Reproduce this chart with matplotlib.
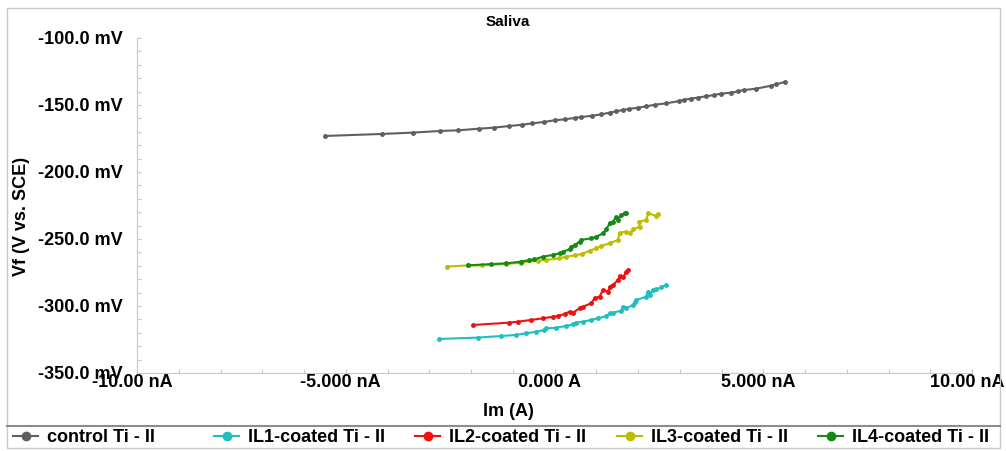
import numpy as np
import matplotlib.pyplot as plt
import matplotlib.transforms as mtransforms
from matplotlib.patches import Rectangle
from matplotlib.lines import Line2D

# Data (current in nA, potential in mV)
control_x = [-5.49, -4.13, -3.39, -2.75, -2.32, -1.81, -1.45, -1.09, -0.77, -0.53,
             -0.26, 0.00, 0.24, 0.48, 0.64, 0.90, 1.12, 1.32, 1.48, 1.64,
             1.78, 2.00, 2.20, 2.40, 2.67, 2.99, 3.11, 3.27, 3.43, 3.63,
             3.83, 3.99, 4.23, 4.39, 4.55, 4.83, 5.19, 5.31, 5.51]
control_y = [-173.1, -171.6, -170.6, -169.4, -168.9, -167.7, -166.9, -165.7, -164.7, -163.7,
             -162.7, -161.4, -160.7, -159.7, -159.0, -158.0, -157.0, -155.7, -154.7, -153.7,
             -153.0, -152.0, -151.0, -149.8, -148.8, -147.0, -146.0, -145.3, -144.5, -143.5,
             -142.5, -141.5, -140.8, -139.8, -138.8, -137.8, -135.6, -134.6, -132.8]

il1_x = [-2.77, -1.84, -1.28, -0.92, -0.69, -0.44, -0.24, -0.20, 0.04, 0.28,
         0.44, 0.52, 0.68, 0.88, 1.04, 1.24, 1.32, 1.40, 1.60, 1.64,
         1.72, 1.88, 1.92, 1.96, 2.20, 2.24, 2.28, 2.36, 2.44, 2.56, 2.67]
il1_y = [-324.6, -323.6, -322.4, -321.6, -320.4, -319.2, -317.9, -316.7, -316.2, -314.9,
         -313.7, -312.4, -311.7, -310.4, -309.2, -307.5, -305.5, -305.0, -303.5, -300.5,
         -301.7, -299.3, -296.8, -295.5, -293.0, -289.3, -291.8, -288.1, -287.6, -286.1, -284.3]

il2_x = [-1.96, -1.08, -0.88, -0.56, -0.28, -0.04, 0.08, 0.24, 0.36, 0.44,
         0.60, 0.68, 0.88, 0.96, 1.08, 1.16, 1.28, 1.32, 1.40, 1.52,
         1.56, 1.64, 1.72, 1.76]
il2_y = [-314.2, -312.4, -311.7, -310.4, -309.2, -308.0, -307.5, -306.0, -304.2, -305.0,
         -301.7, -300.5, -298.0, -294.3, -293.0, -288.1, -289.3, -285.6, -284.3, -280.6,
         -277.6, -278.6, -274.4, -273.1]

il3_x = [-2.57, -2.08, -1.73, -1.16, -0.80, -0.40, -0.20, 0.10, 0.28, 0.48,
         0.66, 0.84, 1.00, 1.12, 1.32, 1.52, 1.56, 1.72, 1.80, 1.88,
         2.04, 2.02, 2.20, 2.24, 2.44, 2.48]
il3_y = [-270.6, -269.7, -269.7, -268.7, -267.7, -266.2, -265.7, -264.4, -263.2, -262.2,
         -261.2, -258.7, -257.0, -255.2, -253.2, -250.7, -245.3, -244.5, -245.8, -242.8,
         -240.8, -237.1, -235.8, -230.8, -232.8, -231.3]

il4_x = [-2.08, -1.52, -1.16, -0.80, -0.60, -0.48, -0.28, -0.04, 0.12, 0.20,
         0.36, 0.40, 0.48, 0.60, 0.64, 0.88, 1.00, 1.16, 1.24, 1.32,
         1.40, 1.48, 1.52, 1.60, 1.68, 1.72]
il4_y = [-269.7, -268.7, -268.2, -266.9, -265.7, -265.2, -263.2, -261.9, -260.7, -259.5,
         -257.7, -255.7, -254.5, -252.0, -250.7, -249.5, -248.3, -245.8, -242.8, -238.3,
         -237.1, -233.3, -235.8, -232.1, -230.8, -230.3]

labels = ["control Ti - II", "IL1-coated Ti - II", "IL2-coated Ti - II",
          "IL3-coated Ti - II", "IL4-coated Ti - II"]
colors = ["#5f5f5f", "#1fbfbf", "#f01010", "#bdbd00", "#138a13"]
series = [(control_x, control_y), (il1_x, il1_y), (il2_x, il2_y),
          (il3_x, il3_y), (il4_x, il4_y)]

x_ticks = [-10, -5, 0, 5, 10]
x_ticklabels = ["-10.00 nA", "-5.000 nA", "0.000 A", "5.000 nA", "10.00 nA"]
y_ticks = [-350, -300, -250, -200, -150, -100]

plt.rcParams['font.family'] = ['Liberation Sans', 'DejaVu Sans']
plt.rcParams['font.weight'] = 'bold'

W, H = 1006, 451
fig = plt.figure(figsize=(W/100, H/100), dpi=100)
ax = fig.add_axes([137/W, 1 - 373/H, (972 - 137)/W, (373 - 38)/H])

for (xs, ys), c in zip(series, colors):
    ax.plot(xs, ys, color=c, lw=1.5, marker='o', ms=2.5)

ax.set_xlim(-10, 10)
ax.set_ylim(-350, -100)
ax.set_xticks(x_ticks)
ax.set_xticklabels(x_ticklabels)
ax.set_yticks(y_ticks)
ax.set_yticklabels(["%.1f mV" % v for v in y_ticks])
ax.set_xticks(np.arange(-10, 10.1, 1), minor=True)
ax.set_yticks(np.arange(-350, -99, 10), minor=True)
ax.tick_params(which='both', direction='in', color='#c8c8c8', length=3, width=0.8)
ax.tick_params(axis='y', labelsize=13, pad=10)
ax.tick_params(axis='x', labelsize=13, pad=1)
for s in ['top', 'right']:
    ax.spines[s].set_visible(False)
for s in ['left', 'bottom']:
    ax.spines[s].set_color('#c8c8c8')

# x tick labels sit a few pixels left of their ticks in the original
shift = mtransforms.ScaledTranslation(-5/100, 0, fig.dpi_scale_trans)
for lbl in ax.get_xticklabels():
    lbl.set_transform(lbl.get_transform() + shift)

fig.text(508/W, 1 - 412/H, "Im (A)", ha='center', va='center', fontsize=13, fontweight='bold')
fig.text(22/W, 1 - 216/H, "Vf (V vs. SCE)", rotation=90, ha='center', va='center',
         fontsize=13, fontweight='bold')
fig.text(508/W, 1 - 22/H, "Saliva", ha='center', va='center', fontsize=11, fontweight='bold')

# outer frame and legend separator
fig.patches.append(Rectangle((7/W, 1 - 448/H), 993/W, 440/H, transform=fig.transFigure,
                             fill=False, ec='#c8c8c8', lw=1))
fig.lines.append(Line2D([7/W, 1000/W], [1 - 426/H] * 2, transform=fig.transFigure,
                        color='#8c8c8c', lw=1.5))

legend_x = [13, 214, 415, 617, 818]
for lx, lab, c in zip(legend_x, labels, colors):
    h = Line2D([], [], color=c, lw=1.5, marker='o', ms=6)
    fig.legend(handles=[h], labels=[lab], loc='center left',
               bbox_to_anchor=(lx/W, 1 - 438/H), frameon=False,
               handlelength=1.4, handletextpad=0.5, borderaxespad=0, borderpad=0,
               prop={'size': 13, 'weight': 'bold'})

fig.savefig("out.png", dpi=100)
